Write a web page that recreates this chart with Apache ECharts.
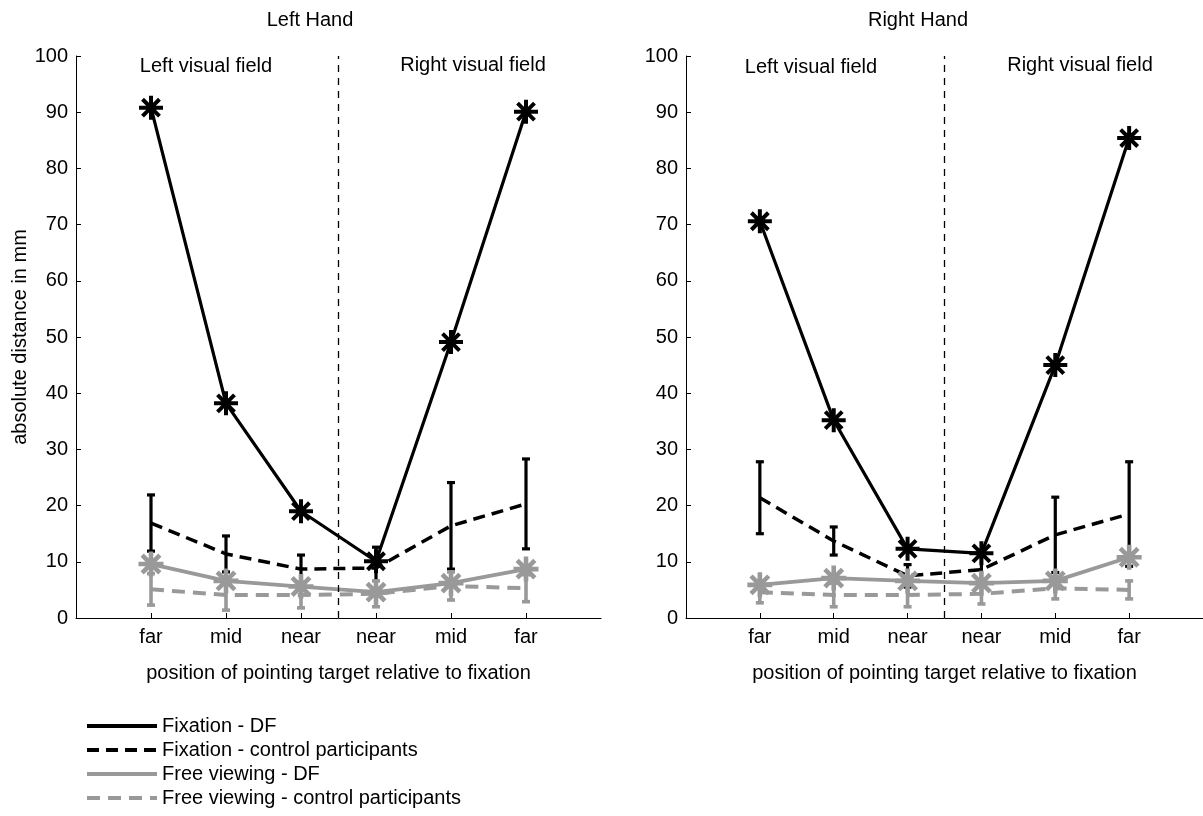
<!DOCTYPE html>
<html><head><meta charset="utf-8">
<script src="https://cdn.jsdelivr.net/npm/echarts@6/dist/echarts.min.js"></script>
<style>html,body{margin:0;padding:0;background:#fff}#c{width:1203px;height:816px}</style>
</head><body><div id="c"></div>
<script>
// ---- data ----
const categories = ['far', 'mid', 'near', 'near', 'mid', 'far'];
const positions = [1, 2, 3, 4, 5, 6];
const seriesNames = ['Fixation - DF', 'Fixation - control participants', 'Free viewing - DF', 'Free viewing - control participants'];

const leftFixDF        = [90.8, 38.2, 19.0, 10.1, 49.1, 90.1];
const leftFixCtrlMean  = [16.9, 11.4, 8.7, 8.9, 16.4, 20.3];
const leftFixCtrlErr   = [5.0, 3.2, 2.5, 3.7, 7.7, 8.0];
const leftFreeDF       = [9.6, 6.6, 5.6, 4.6, 6.2, 8.7];
const leftFreeCtrlMean = [5.1, 4.1, 4.1, 4.3, 5.7, 5.3];
const leftFreeCtrlErr  = [2.8, 2.7, 2.3, 2.3, 2.5, 2.4];

const rightFixDF        = [70.6, 35.2, 12.3, 11.5, 45.0, 85.4];
const rightFixCtrlMean  = [21.4, 13.7, 7.5, 8.6, 14.8, 18.5];
const rightFixCtrlErr   = [6.4, 2.5, 2.0, 2.4, 6.7, 9.3];
const rightFreeDF       = [5.9, 7.1, 6.6, 6.2, 6.6, 10.8];
const rightFreeCtrlMean = [4.6, 4.1, 4.1, 4.3, 5.3, 5.0];
const rightFreeCtrlErr  = [1.9, 2.1, 2.1, 1.8, 1.9, 1.6];

// ---- styles ----
const FONT = '"Liberation Sans", Arial, Helvetica, sans-serif';
const BLACK = '#000000';
const GRAY = '#999999';

function asteriskPath(t) {
  const h = t / 2, c = 12, a = 12 - 12 / Math.SQRT2, d = h / Math.SQRT2, b = 24 - a;
  const f = n => n.toFixed(3);
  const poly = pts => 'M' + pts.map(p => f(p[0]) + ',' + f(p[1])).join(' L') + ' Z ';
  return 'path://' +
    poly([[0, c - h], [24, c - h], [24, c + h], [0, c + h]]) +
    poly([[c - h, 0], [c + h, 0], [c + h, 24], [c - h, 24]]) +
    poly([[a + d, a - d], [b + d, b - d], [b - d, b + d], [a - d, a + d]]) +
    poly([[b - d, a - d], [b + d, a + d], [a + d, b + d], [a - d, b - d]]);
}
const starBlack = asteriskPath(4.0);
const starGray = asteriskPath(4.4);

function pts(vals) { return positions.map((p, i) => [p, vals[i]]); }
function errPts(mean, err) { return positions.map((p, i) => [p, mean[i] - err[i], mean[i] + err[i]]); }

function errRender(color, width, cap) {
  return function (params, api) {
    const x = api.value(0);
    const lo = api.coord([x, api.value(1)]);
    const hi = api.coord([x, api.value(2)]);
    const st = { stroke: color, lineWidth: width };
    return {
      type: 'group', children: [
        { type: 'line', shape: { x1: hi[0], y1: hi[1], x2: lo[0], y2: lo[1] }, style: st },
        { type: 'line', shape: { x1: hi[0] - cap, y1: hi[1], x2: hi[0] + cap, y2: hi[1] }, style: st },
        { type: 'line', shape: { x1: lo[0] - cap, y1: lo[1], x2: lo[0] + cap, y2: lo[1] }, style: st }
      ]
    };
  };
}

function panelSeries(idx, fixDF, fixM, fixE, freeDF, freeM, freeE) {
  const ax = { xAxisIndex: idx, yAxisIndex: idx };
  return [
    Object.assign({
      name: 'errFix' + idx, type: 'custom', data: errPts(fixM, fixE),
      encode: { x: 0, y: [1, 2] }, renderItem: errRender(BLACK, 3.2, 4), silent: true
    }, ax),
    Object.assign({
      name: seriesNames[1], type: 'line', data: pts(fixM), symbol: 'none',
      lineStyle: { color: BLACK, width: 3.5, type: [12, 7] }, itemStyle: { color: BLACK },
      markLine: {
        symbol: 'none', silent: true, label: { show: false },
        lineStyle: { color: BLACK, width: 1.3, type: [7, 6] },
        data: [[{ coord: [3.5, 0] }, { coord: [3.5, 100] }]]
      }
    }, ax),
    Object.assign({
      name: 'errFree' + idx, type: 'custom', data: errPts(freeM, freeE),
      encode: { x: 0, y: [1, 2] }, renderItem: errRender(GRAY, 3.6, 4), silent: true
    }, ax),
    Object.assign({
      name: seriesNames[3], type: 'line', data: pts(freeM), symbol: 'none',
      lineStyle: { color: GRAY, width: 4, type: [13, 8] }, itemStyle: { color: GRAY }
    }, ax),
    Object.assign({
      name: seriesNames[2], type: 'line', data: pts(freeDF), symbol: starGray, symbolSize: 25,
      lineStyle: { color: GRAY, width: 3.8 }, itemStyle: { color: GRAY }
    }, ax),
    Object.assign({
      name: seriesNames[0], type: 'line', data: pts(fixDF), symbol: starBlack, symbolSize: 24,
      lineStyle: { color: BLACK, width: 3.2 }, itemStyle: { color: BLACK }
    }, ax)
  ];
}

function xAxisCfg(idx) {
  return {
    gridIndex: idx, type: 'value', min: 0, max: 7, interval: 1,
    axisLine: { show: true, lineStyle: { color: BLACK, width: 1 } },
    axisTick: { show: true, inside: true, length: 5, customValues: positions, lineStyle: { color: BLACK } },
    axisLabel: {
      customValues: positions, margin: 9, color: BLACK, fontSize: 20, fontFamily: FONT,
      formatter: v => categories[v - 1] || ''
    },
    splitLine: { show: false },
    name: 'position of pointing target relative to fixation', nameLocation: 'middle', nameGap: 45,
    nameTextStyle: { color: BLACK, fontSize: 20, fontFamily: FONT }
  };
}
function yAxisCfg(idx, withName) {
  const c = {
    gridIndex: idx, type: 'value', min: 0, max: 100, interval: 10,
    axisLine: { show: true, lineStyle: { color: BLACK, width: 1 } },
    axisTick: { show: true, inside: true, length: 5, lineStyle: { color: BLACK } },
    axisLabel: { margin: 8, color: BLACK, fontSize: 20, fontFamily: FONT },
    splitLine: { show: false }
  };
  if (withName) {
    c.name = 'absolute distance in mm'; c.nameLocation = 'middle'; c.nameGap = 46; c.nameRotate = 90;
    c.nameTextStyle = { color: BLACK, fontSize: 20, fontFamily: FONT };
  }
  return c;
}

function txt(x, y, s) {
  return {
    type: 'text', x: x, y: y, silent: true,
    style: { text: s, fill: BLACK, font: '20px ' + FONT, align: 'center', verticalAlign: 'middle',
             textAlign: 'center', textVerticalAlign: 'middle' }
  };
}

const chart = echarts.init(document.getElementById('c'), null, { renderer: 'canvas' });
chart.setOption({
  backgroundColor: '#ffffff',
  animation: false,
  grid: [
    { left: 76, top: 56, width: 525, height: 562 },
    { left: 686, top: 56, width: 523, height: 562 }
  ],
  xAxis: [xAxisCfg(0), xAxisCfg(1)],
  yAxis: [yAxisCfg(0, true), yAxisCfg(1, false)],
  legend: {
    orient: 'vertical', left: 80, top: 711, itemWidth: 70, itemHeight: 14, itemGap: 4,
    data: seriesNames, selectedMode: false,
    itemStyle: { opacity: 0 },
    lineStyle: { width: 4 },
    textStyle: { color: BLACK, fontSize: 20, fontFamily: FONT }
  },
  graphic: [
    txt(310, 20, 'Left Hand'),
    txt(918, 20, 'Right Hand'),
    txt(206, 66, 'Left visual field'),
    txt(473, 65, 'Right visual field'),
    txt(811, 67, 'Left visual field'),
    txt(1080, 65, 'Right visual field')
  ],
  series: [].concat(
    panelSeries(0, leftFixDF, leftFixCtrlMean, leftFixCtrlErr, leftFreeDF, leftFreeCtrlMean, leftFreeCtrlErr),
    panelSeries(1, rightFixDF, rightFixCtrlMean, rightFixCtrlErr, rightFreeDF, rightFreeCtrlMean, rightFreeCtrlErr)
  )
});
</script>
</body></html>
